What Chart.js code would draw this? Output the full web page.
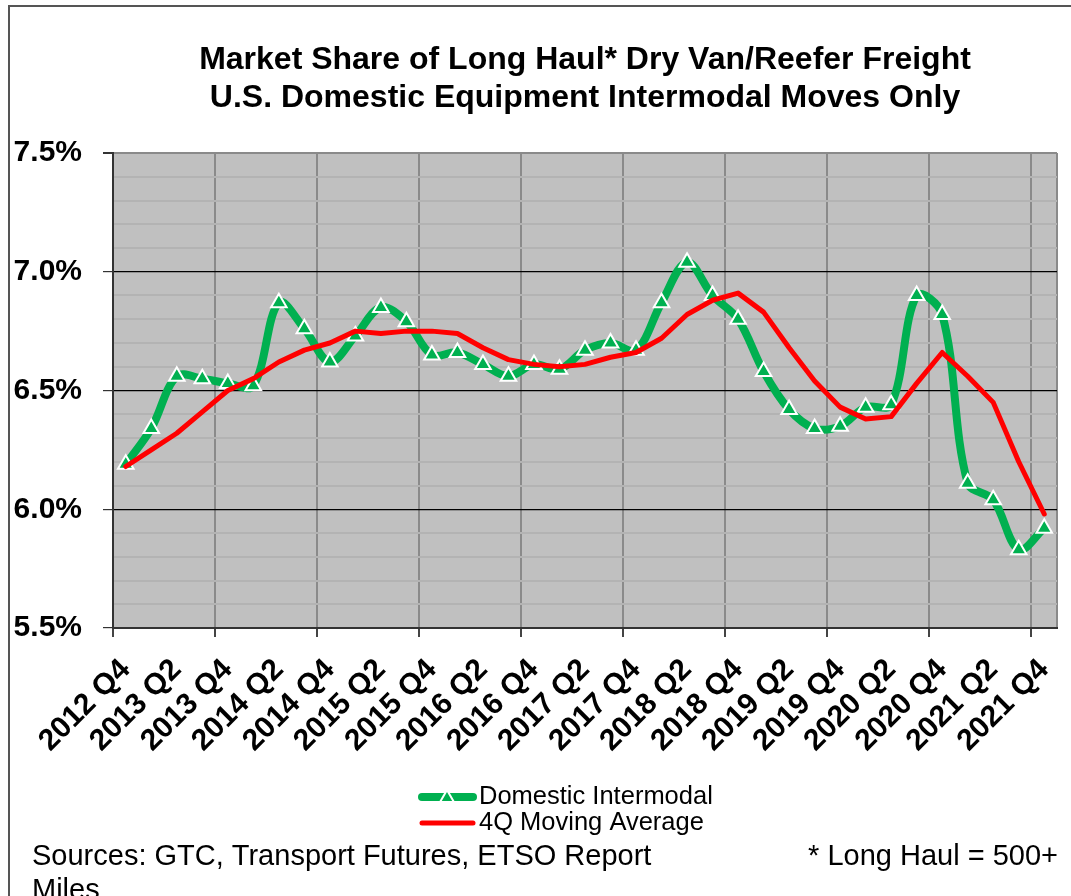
<!DOCTYPE html>
<html>
<head>
<meta charset="utf-8">
<title>Market Share of Long Haul Dry Van/Reefer Freight</title>
<script src="https://cdn.jsdelivr.net/npm/chart.js@4.4.1/dist/chart.umd.min.js"></script>
<style>
  html, body { margin: 0; padding: 0; background: #fff; }
  #chart { display: block; }
</style>
</head>
<body>
<canvas id="chart" width="1071" height="896"></canvas>
<script>
const quarters = [
    '2012 Q4',
    '2013 Q1', '2013 Q2', '2013 Q3', '2013 Q4',
    '2014 Q1', '2014 Q2', '2014 Q3', '2014 Q4',
    '2015 Q1', '2015 Q2', '2015 Q3', '2015 Q4',
    '2016 Q1', '2016 Q2', '2016 Q3', '2016 Q4',
    '2017 Q1', '2017 Q2', '2017 Q3', '2017 Q4',
    '2018 Q1', '2018 Q2', '2018 Q3', '2018 Q4',
    '2019 Q1', '2019 Q2', '2019 Q3', '2019 Q4',
    '2020 Q1', '2020 Q2', '2020 Q3', '2020 Q4',
    '2021 Q1', '2021 Q2', '2021 Q3', '2021 Q4'
];

// market share, percent
const domesticIntermodal = [
    6.19, 6.34, 6.56, 6.55, 6.53, 6.52, 6.87, 6.76, 6.62, 6.73,
    6.85, 6.79, 6.65, 6.66, 6.61, 6.56, 6.61, 6.59, 6.67, 6.70,
    6.67, 6.87, 7.04, 6.90, 6.80, 6.58, 6.42, 6.34, 6.35, 6.43,
    6.44, 6.90, 6.82, 6.11, 6.04, 5.83, 5.92
];
const movingAverage = [
    6.18, 6.25, 6.32, 6.41, 6.50, 6.55, 6.62, 6.67, 6.70, 6.75,
    6.74, 6.75, 6.75, 6.74, 6.68, 6.63, 6.61, 6.60, 6.61, 6.64,
    6.66, 6.72, 6.82, 6.88, 6.91, 6.83, 6.68, 6.54, 6.43, 6.38,
    6.39, 6.53, 6.66, 6.56, 6.45, 6.20, 5.98
];

const yTicks = [
    5.5, 5.6, 5.7, 5.8, 5.9, 6.0, 6.1, 6.2, 6.3, 6.4, 6.5,
    6.6, 6.7, 6.8, 6.9, 7.0, 7.1, 7.2, 7.3, 7.4, 7.5
];

const seriesNames = ['Domestic Intermodal', '4Q Moving Average'];
const titleLines = [
    'Market Share of Long Haul* Dry Van/Reefer Freight',
    'U.S. Domestic Equipment Intermodal Moves Only'
];
const sourceNote = 'Sources: GTC, Transport Futures, ETSO Report';
const haulNote = ['* Long Haul = 500+', 'Miles'];

const FONT = 'Arial, "Liberation Sans", sans-serif';
const GREEN = '#00b050';
const RED = '#ff0000';

function isMajor(v) {
    return Math.round(v * 10) % 5 === 0;
}

function drawTriangle(ctx, x, y, r) {
    ctx.beginPath();
    ctx.moveTo(x, y - r);
    ctx.lineTo(x + r * 0.866, y + r * 0.5);
    ctx.lineTo(x - r * 0.866, y + r * 0.5);
    ctx.closePath();
    ctx.fillStyle = GREEN;
    ctx.fill();
    ctx.strokeStyle = '#fff';
    ctx.lineWidth = 2;
    ctx.stroke();
}

// plot fill, outer frame, legend and notes
const decorations = {
    id: 'decorations',
    beforeDraw(chart) {
        const { ctx, chartArea: a } = chart;
        ctx.save();
        ctx.fillStyle = '#c0c0c0';
        ctx.fillRect(a.left, a.top, a.right - a.left, a.bottom - a.top);
        ctx.restore();
    },
    afterDraw(chart) {
        const ctx = chart.ctx;
        ctx.save();

        ctx.strokeStyle = '#555';
        ctx.lineWidth = 2;
        ctx.beginPath();
        ctx.moveTo(9, 896);
        ctx.lineTo(9, 6);
        ctx.lineTo(1071, 6);
        ctx.stroke();

        chart.data.datasets.forEach((ds, i) => {
            const y = 797 + i * 26;
            ctx.strokeStyle = ds.borderColor;
            ctx.lineWidth = ds.borderWidth;
            ctx.lineCap = 'round';
            ctx.beginPath();
            ctx.moveTo(422, y);
            ctx.lineTo(473, y);
            ctx.stroke();
            if (ds.pointRadius) drawTriangle(ctx, 447, y + 1, 8);
            ctx.fillStyle = '#000';
            ctx.font = '25.5px ' + FONT;
            ctx.textAlign = 'left';
            ctx.textBaseline = 'middle';
            ctx.fillText(ds.label, 479, y);
        });

        ctx.font = '29px ' + FONT;
        ctx.fillStyle = '#000';
        ctx.textBaseline = 'middle';
        ctx.textAlign = 'left';
        ctx.fillText(sourceNote, 32, 857);
        ctx.fillText(haulNote[1], 32, 891);
        ctx.textAlign = 'right';
        ctx.fillText(haulNote[0], 1058, 857);
        ctx.restore();
    }
};

new Chart(document.getElementById('chart'), {
    type: 'line',
    data: {
        labels: quarters,
        datasets: [{
            label: seriesNames[0],
            data: domesticIntermodal,
            borderColor: GREEN,
            backgroundColor: GREEN,
            borderWidth: 8,
            tension: 0.35,
            pointStyle: 'triangle',
            pointRadius: 9,
            pointBackgroundColor: GREEN,
            pointBorderColor: '#fff',
            pointBorderWidth: 2,
            order: 1
        }, {
            label: seriesNames[1],
            data: movingAverage,
            borderColor: RED,
            backgroundColor: RED,
            borderWidth: 5,
            tension: 0,
            pointRadius: 0,
            borderJoinStyle: 'round',
            borderCapStyle: 'round',
            order: 0
        }]
    },
    options: {
        responsive: false,
        animation: false,
        layout: { padding: { left: 0, right: 14, top: 0, bottom: 0 } },
        plugins: {
            legend: { display: false },
            tooltip: { enabled: false },
            title: {
                display: true,
                text: titleLines,
                fullSize: false,
                color: '#000',
                font: { family: FONT, size: 32, weight: 'bold', lineHeight: 1.1875 },
                padding: { top: 41, bottom: 36 }
            }
        },
        scales: {
            x: {
                offset: true,
                afterFit: scale => {
                    scale.height = 268;
                    scale.paddingLeft = 0;
                    scale.paddingRight = 0;
                },
                grid: {
                    offset: true,
                    lineWidth: 2,
                    color: ctx => (ctx.index === undefined || ctx.index % 4 === 0) ? '#8a8a8a' : 'transparent',
                    tickColor: ctx => (ctx.index !== undefined && ctx.index % 4 === 0) ? '#444' : 'transparent',
                    tickLength: 9
                },
                border: { color: '#333', width: 2 },
                ticks: {
                    autoSkip: false,
                    minRotation: 45,
                    maxRotation: 45,
                    padding: 22,
                    color: '#000',
                    font: { family: FONT, size: 30, weight: 'bold', lineHeight: 0.55 },
                    callback: (value, i) => i % 2 === 0 ? quarters[i] : ''
                }
            },
            y: {
                min: 5.5,
                max: 7.5,
                afterBuildTicks: scale => {
                    scale.ticks = yTicks.map(v => ({ value: v }));
                },
                afterFit: scale => {
                    scale.width = 113;
                },
                grid: {
                    color: ctx => {
                        const v = ctx.tick ? ctx.tick.value : 0;
                        if (v >= 7.49) return '#8a8a8a';
                        return isMajor(v) ? '#000' : '#b3b3b3';
                    },
                    lineWidth: ctx => {
                        const v = ctx.tick ? ctx.tick.value : 0;
                        if (v >= 7.49) return 2;
                        return isMajor(v) ? 1.2 : 2;
                    },
                    tickColor: ctx => (ctx.tick && isMajor(ctx.tick.value)) ? '#333' : 'transparent',
                    tickLength: 10
                },
                border: { color: '#333', width: 2 },
                ticks: {
                    autoSkip: false,
                    padding: 21,
                    color: '#000',
                    font: { family: FONT, size: 30, weight: 'bold' },
                    callback: value => isMajor(value) ? value.toFixed(1) + '%' : ''
                }
            }
        }
    },
    plugins: [decorations]
});
</script>
</body>
</html>
